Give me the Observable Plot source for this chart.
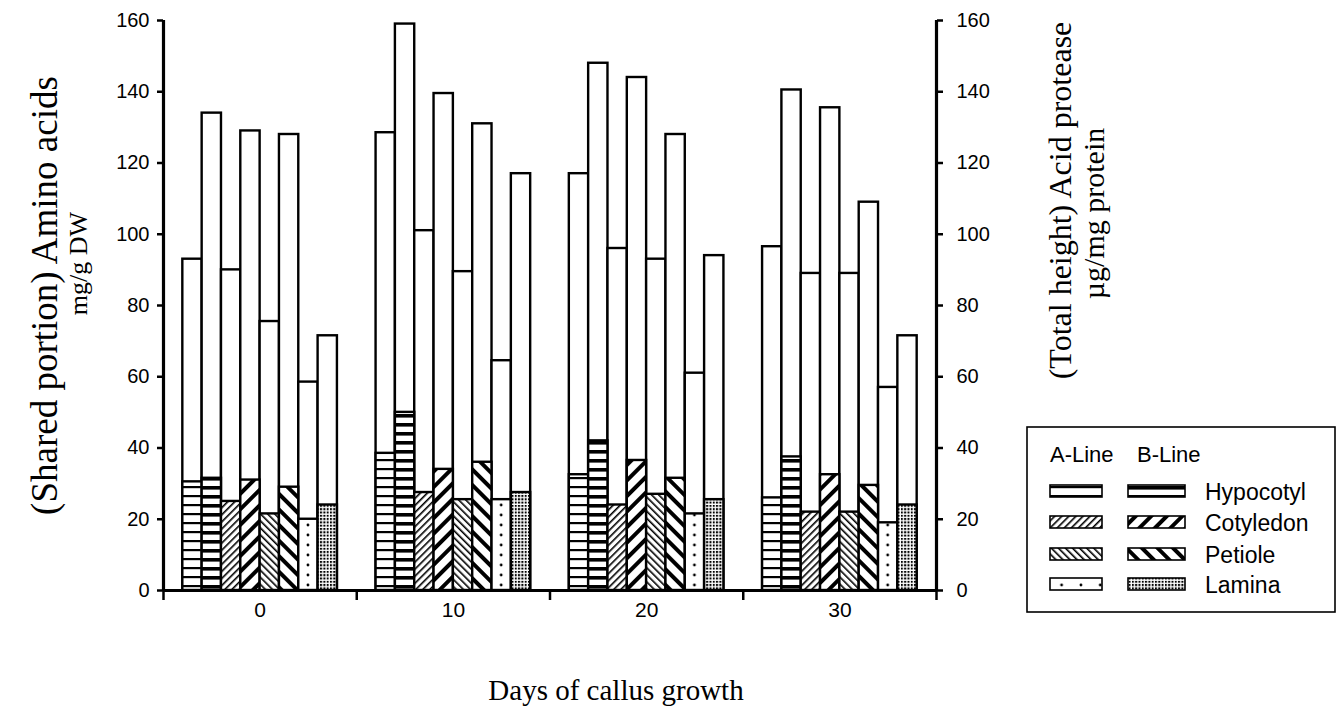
<!DOCTYPE html>
<html>
<head>
<meta charset="utf-8">
<script src="https://cdn.jsdelivr.net/npm/d3@7"></script>
<script src="https://cdn.jsdelivr.net/npm/@observablehq/plot@0.6"></script>
<style>
  html, body { margin: 0; padding: 0; background: white; }
  #wrap { position: relative; width: 1340px; height: 710px; overflow: hidden; }
  #legend { position: absolute; left: 0; top: 0; }
</style>
</head>
<body>
<svg id="defs" width="0" height="0" style="position:absolute">
  <defs>
    <pattern id="p-A-Hypocotyl" patternUnits="userSpaceOnUse" width="8" height="9">
      <rect width="8" height="9" fill="white"/><rect y="0" width="8" height="2.2" fill="black"/>
    </pattern>
    <pattern id="p-B-Hypocotyl" patternUnits="userSpaceOnUse" width="8" height="9">
      <rect width="8" height="9" fill="white"/><rect y="0" width="8" height="3.6" fill="black"/>
    </pattern>
    <pattern id="p-A-Cotyledon" patternUnits="userSpaceOnUse" width="5" height="5" patternTransform="rotate(45)">
      <rect width="5" height="5" fill="white"/><rect width="1.6" height="5" fill="black"/>
    </pattern>
    <pattern id="p-B-Cotyledon" patternUnits="userSpaceOnUse" width="11" height="11" patternTransform="rotate(45)">
      <rect width="11" height="11" fill="white"/><rect width="4" height="11" fill="black"/>
    </pattern>
    <pattern id="p-A-Petiole" patternUnits="userSpaceOnUse" width="5" height="5" patternTransform="rotate(-45)">
      <rect width="5" height="5" fill="white"/><rect width="1.6" height="5" fill="black"/>
    </pattern>
    <pattern id="p-B-Petiole" patternUnits="userSpaceOnUse" width="11" height="11" patternTransform="rotate(-45)">
      <rect width="11" height="11" fill="white"/><rect width="4" height="11" fill="black"/>
    </pattern>
    <pattern id="p-A-Lamina" patternUnits="userSpaceOnUse" width="19.325" height="10">
      <rect width="19.325" height="10" fill="white"/><circle cx="9.7" cy="5" r="1.4" fill="black"/>
    </pattern>
    <pattern id="p-B-Lamina" patternUnits="userSpaceOnUse" width="3.3" height="3.3">
      <rect width="3.3" height="3.3" fill="white"/><rect width="2" height="2" fill="black"/>
    </pattern>
  </defs>
</svg>
<div id="wrap"></div>
<script>
// ---------- data ----------
const days = [0, 10, 20, 30];
const lines = ["A", "B"];
const lineLabels = ["A-Line", "B-Line"];
const tissues = ["Hypocotyl", "Cotyledon", "Petiole", "Lamina"];
// bar order inside each day: A-Hyp, B-Hyp, A-Cot, B-Cot, A-Pet, B-Pet, A-Lam, B-Lam
// total bar height = acid protease (µg/mg protein)
const totalDay0  = [93, 134, 90, 129, 75.5, 128, 58.5, 71.5];
const totalDay10 = [128.5, 159, 101, 139.5, 89.5, 131, 64.5, 117];
const totalDay20 = [117, 148, 96, 144, 93, 128, 61, 94];
const totalDay30 = [96.5, 140.5, 89, 135.5, 89, 109, 57, 71.5];
// shared (patterned) portion = amino acids (mg/g DW)
const sharedDay0  = [30.5, 31.5, 25, 31, 21.5, 29, 20, 24];
const sharedDay10 = [38.5, 50, 27.5, 34, 25.5, 36, 25.5, 27.5];
const sharedDay20 = [32.5, 42, 24, 36.5, 27, 31.5, 21.5, 25.5];
const sharedDay30 = [26, 37.5, 22, 32.5, 22, 29.5, 19, 24];
const yTicks = [0, 20, 40, 60, 80, 100, 120, 140, 160];
const xBoundaryTicks = [-5, 5, 15, 25, 35];

const totals = [totalDay0, totalDay10, totalDay20, totalDay30];
const shareds = [sharedDay0, sharedDay10, sharedDay20, sharedDay30];

const rows = [];
days.forEach((day, j) => {
  tissues.forEach((tissue, k) => {
    lines.forEach((line, m) => {
      const slot = 2 * k + m;
      rows.push({day, tissue, line, slot, total: totals[j][slot], shared: shareds[j][slot]});
    });
  });
});

// ---------- layout ----------
const W = 1340, H = 710;
const mL = 163, mR = 404, mT = 20, mB = 120;
const xDomain = [-5, 35];
const serif = "'Liberation Serif', 'Times New Roman', serif";
const sans = "'Liberation Sans', Arial, sans-serif";

const bx1 = d => d.day - 4 + d.slot;
const bx2 = d => d.day - 3 + d.slot;

const plot = Plot.plot({
  width: W, height: H,
  marginLeft: mL, marginRight: mR, marginTop: mT, marginBottom: mB,
  style: {fontFamily: sans, fontSize: "20px", background: "white", color: "black", overflow: "visible"},
  x: {domain: xDomain},
  y: {domain: [0, 160]},
  color: {type: "identity"},
  marks: [
    Plot.rect(rows, {x1: bx1, x2: bx2, y1: 0, y2: "total", fill: "white", stroke: "black", strokeWidth: 2.4}),
    Plot.rect(rows, {x1: bx1, x2: bx2, y1: 0, y2: "shared", fill: d => `url(#p-${d.line}-${d.tissue})`, stroke: "black", strokeWidth: 2.4}),
    Plot.axisY({anchor: "left", ticks: yTicks, tickSize: 6, tickPadding: 8, label: null, strokeWidth: 2.5, fontSize: 20}),
    Plot.axisY({anchor: "right", ticks: yTicks, tickSize: 6, tickPadding: 14, label: null, strokeWidth: 2.5, fontSize: 20}),
    Plot.axisX({ticks: xBoundaryTicks, tickSize: 10, tickFormat: () => "", label: null, strokeWidth: 2.5}),
    Plot.axisX({ticks: days, tickSize: 0, tickPadding: 12, label: null, fontSize: 21}),
    Plot.ruleX([xDomain[0], xDomain[1]], {y1: 0, y2: 160, strokeWidth: 3.2}),
    Plot.ruleY([0], {strokeWidth: 3.2}),
    Plot.text(["(Shared portion) Amino acids"], {frameAnchor: "left", textAnchor: "middle", lineAnchor: "middle", rotate: -90, dx: -118, dy: -10, fontFamily: serif, fontSize: 37}),
    Plot.text(["mg/g DW"], {frameAnchor: "left", textAnchor: "middle", lineAnchor: "middle", rotate: -90, dx: -85, dy: -42, fontFamily: serif, fontSize: 26}),
    Plot.text(["(Total height) Acid protease"], {frameAnchor: "right", textAnchor: "middle", lineAnchor: "middle", rotate: -90, dx: 124, dy: -105, fontFamily: serif, fontSize: 32}),
    Plot.text(["µg/mg protein"], {frameAnchor: "right", textAnchor: "middle", lineAnchor: "middle", rotate: -90, dx: 158, dy: -92, fontFamily: serif, fontSize: 30}),
    Plot.text(["Days of callus growth"], {frameAnchor: "bottom", textAnchor: "middle", lineAnchor: "middle", dx: 66, dy: 100, fontFamily: serif, fontSize: 29})
  ]
});

document.getElementById("wrap").appendChild(plot);

// align the lamina dot pattern to the bar grid using the same linear mapping as the x scale
const xs = d3.scaleLinear(xDomain, [mL, W - mR]);
const barW = xs(1) - xs(0);
const patA = document.getElementById("p-A-Lamina");
patA.setAttribute("width", barW);
patA.setAttribute("x", xs(-4));
patA.querySelector("rect").setAttribute("width", barW);
patA.querySelector("circle").setAttribute("cx", barW / 2);

// ---------- legend (overlay) ----------
const leg = d3.select("#wrap").append("svg")
  .attr("id", "legend").attr("width", W).attr("height", H)
  .style("pointer-events", "none");
leg.append("rect").attr("x", 1027).attr("y", 427).attr("width", 308).attr("height", 185)
  .attr("fill", "white").attr("stroke", "black").attr("stroke-width", 1.6);
const headX = [1050, 1137];
lineLabels.forEach((t, m) => {
  leg.append("text").attr("x", headX[m]).attr("y", 462).attr("font-family", sans)
    .attr("font-size", 22).text(t);
});
const rowY = [491, 522, 554, 584];
const swX = [[1050, 52], [1128, 57]];
tissues.forEach((tissue, k) => {
  lines.forEach((line, m) => {
    leg.append("rect").attr("x", swX[m][0]).attr("y", rowY[k] - 6).attr("width", swX[m][1]).attr("height", 12)
      .attr("fill", `url(#p-${line}-${tissue})`).attr("stroke", "black").attr("stroke-width", 1.6);
  });
  leg.append("text").attr("x", 1205).attr("y", rowY[k] + 9).attr("font-family", sans)
    .attr("font-size", 23).text(tissue);
});
</script>
</body>
</html>
